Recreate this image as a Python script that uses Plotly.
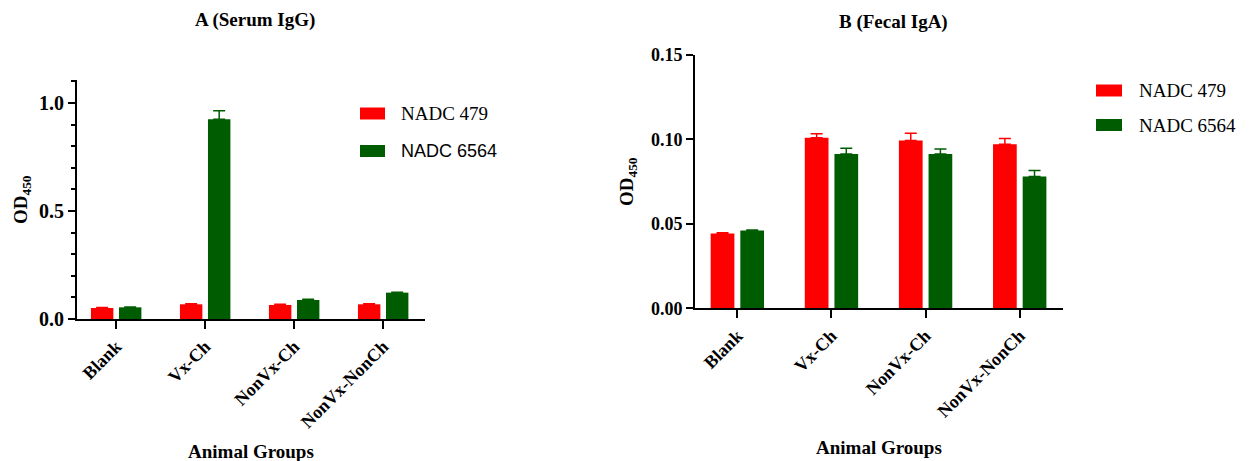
import plotly.graph_objects as go

categories = ["Blank", "Vx-Ch", "NonVx-Ch", "NonVx-NonCh"]
series_names = ["NADC 479", "NADC 6564"]

# Panel A (Serum IgG)
a_479 = [0.051, 0.068, 0.065, 0.068]
a_479_err = [0.002, 0.003, 0.003, 0.002]
a_6564 = [0.054, 0.924, 0.088, 0.122]
a_6564_err = [0.002, 0.040, 0.003, 0.002]

# Panel B (Fecal IgA)
b_479 = [0.0443, 0.1010, 0.0994, 0.0972]
b_479_err = [0.0004, 0.0023, 0.0043, 0.0034]
b_6564 = [0.0460, 0.0914, 0.0914, 0.0780]
b_6564_err = [0.0004, 0.0034, 0.0029, 0.0036]

RED = "#FF0000"
GREEN = "#005C00"
SERIF = "Liberation Serif"
SANS = "Liberation Sans"
W, H = 1258, 461

fig = go.Figure()

def add_bar(x, y, err, color, name, xa, ya):
    fig.add_trace(go.Bar(
        x=x, y=y, name=name, marker=dict(color=color, line=dict(width=0)),
        error_y=dict(type="data", array=err, arrayminus=[0] * len(err), symmetric=False,
                     color=color, thickness=1.5, width=6),
        xaxis=xa, yaxis=ya, showlegend=False,
    ))

add_bar(categories, a_479, a_479_err, RED, series_names[0], "x", "y")
add_bar(categories, a_6564, a_6564_err, GREEN, series_names[1], "x", "y")
add_bar(categories, b_479, b_479_err, RED, series_names[0], "x2", "y2")
add_bar(categories, b_6564, b_6564_err, GREEN, series_names[1], "x2", "y2")

def axis_common(size):
    return dict(
        showline=True, linecolor="black", linewidth=2, showgrid=False, zeroline=False,
        ticks="outside", tickcolor="black", tickwidth=2,
        tickfont=dict(family=SERIF, size=size, color="black", weight="bold"),
        automargin=False,
    )

fig.update_layout(
    width=W, height=H,
    margin=dict(l=0, r=0, t=0, b=0, pad=0, autoexpand=False),
    paper_bgcolor="white", plot_bgcolor="white",
    barmode="group", bargap=0.37, bargroupgap=0.2,
    showlegend=False,
    xaxis=dict(domain=[77 / W, 425 / W], range=[-0.44, 3.47], anchor="y",
               tickangle=-45, ticklen=8, **axis_common(18)),
    yaxis=dict(domain=[1 - 319 / H, 1 - 80 / H], range=[0, 1.106], anchor="x",
               tickvals=[0, 0.5, 1.0], tickformat=".1f", ticklen=7,
               minor=dict(dtick=0.1, ticks="outside", ticklen=4, tickwidth=2, tickcolor="black"),
               **axis_common(20)),
    xaxis2=dict(domain=[695 / W, 1063 / W], range=[-0.45, 3.46], anchor="y2",
                tickangle=-45, ticklen=8, **axis_common(18)),
    yaxis2=dict(domain=[1 - 308.3 / H, 1 - 55 / H], range=[0, 0.15], anchor="x2",
                tickvals=[0, 0.05, 0.10, 0.15], tickformat=".2f", ticklen=7,
                **axis_common(18)),
)

title_font = dict(family=SERIF, size=19, color="black", weight="bold")
axis_title_font = dict(family=SERIF, size=19, color="black", weight="bold")
annotations = [
    dict(text="A (Serum IgG)", x=255 / W, y=1 - 20 / H, font=title_font),
    dict(text="B (Fecal IgA)", x=893 / W, y=1 - 22 / H, font=title_font),
    dict(text="Animal Groups", x=251 / W, y=1 - 451 / H, font=axis_title_font),
    dict(text="Animal Groups", x=879 / W, y=1 - 447 / H, font=axis_title_font),
    dict(text="OD<sub>450</sub>", x=22 / W, y=1 - 200 / H, textangle=-90, font=axis_title_font),
    dict(text="OD<sub>450</sub>", x=628 / W, y=1 - 182 / H, textangle=-90, font=axis_title_font),
]
for a in annotations:
    fig.add_annotation(xref="paper", yref="paper", xanchor="center", yanchor="middle",
                       showarrow=False, **a)

# Legends (swatch rectangles + text), one per panel
legend_items = [
    # (swatch x0, x1, y center, text x, colour, name, font family, size)
    (360, 385, 113.5, 399, RED, series_names[0], SERIF, 19),
    (360, 385, 151, 399, GREEN, series_names[1], SANS, 18),
    (1096, 1122, 90.5, 1137, RED, series_names[0], SERIF, 19),
    (1096, 1122, 125, 1137, GREEN, series_names[1], SERIF, 19),
]
for x0, x1, yc, tx, col, name, fam, size in legend_items:
    fig.add_shape(type="rect", xref="paper", yref="paper",
                  x0=x0 / W, x1=x1 / W, y0=1 - (yc + 6) / H, y1=1 - (yc - 6) / H,
                  fillcolor=col, line=dict(width=0))
    fig.add_annotation(xref="paper", yref="paper", x=tx / W, y=1 - yc / H,
                       xanchor="left", yanchor="middle", showarrow=False, text=name,
                       font=dict(family=fam, size=size, color="black"))

fig.write_html("out.html", post_script="document.body.style.margin='0';")
